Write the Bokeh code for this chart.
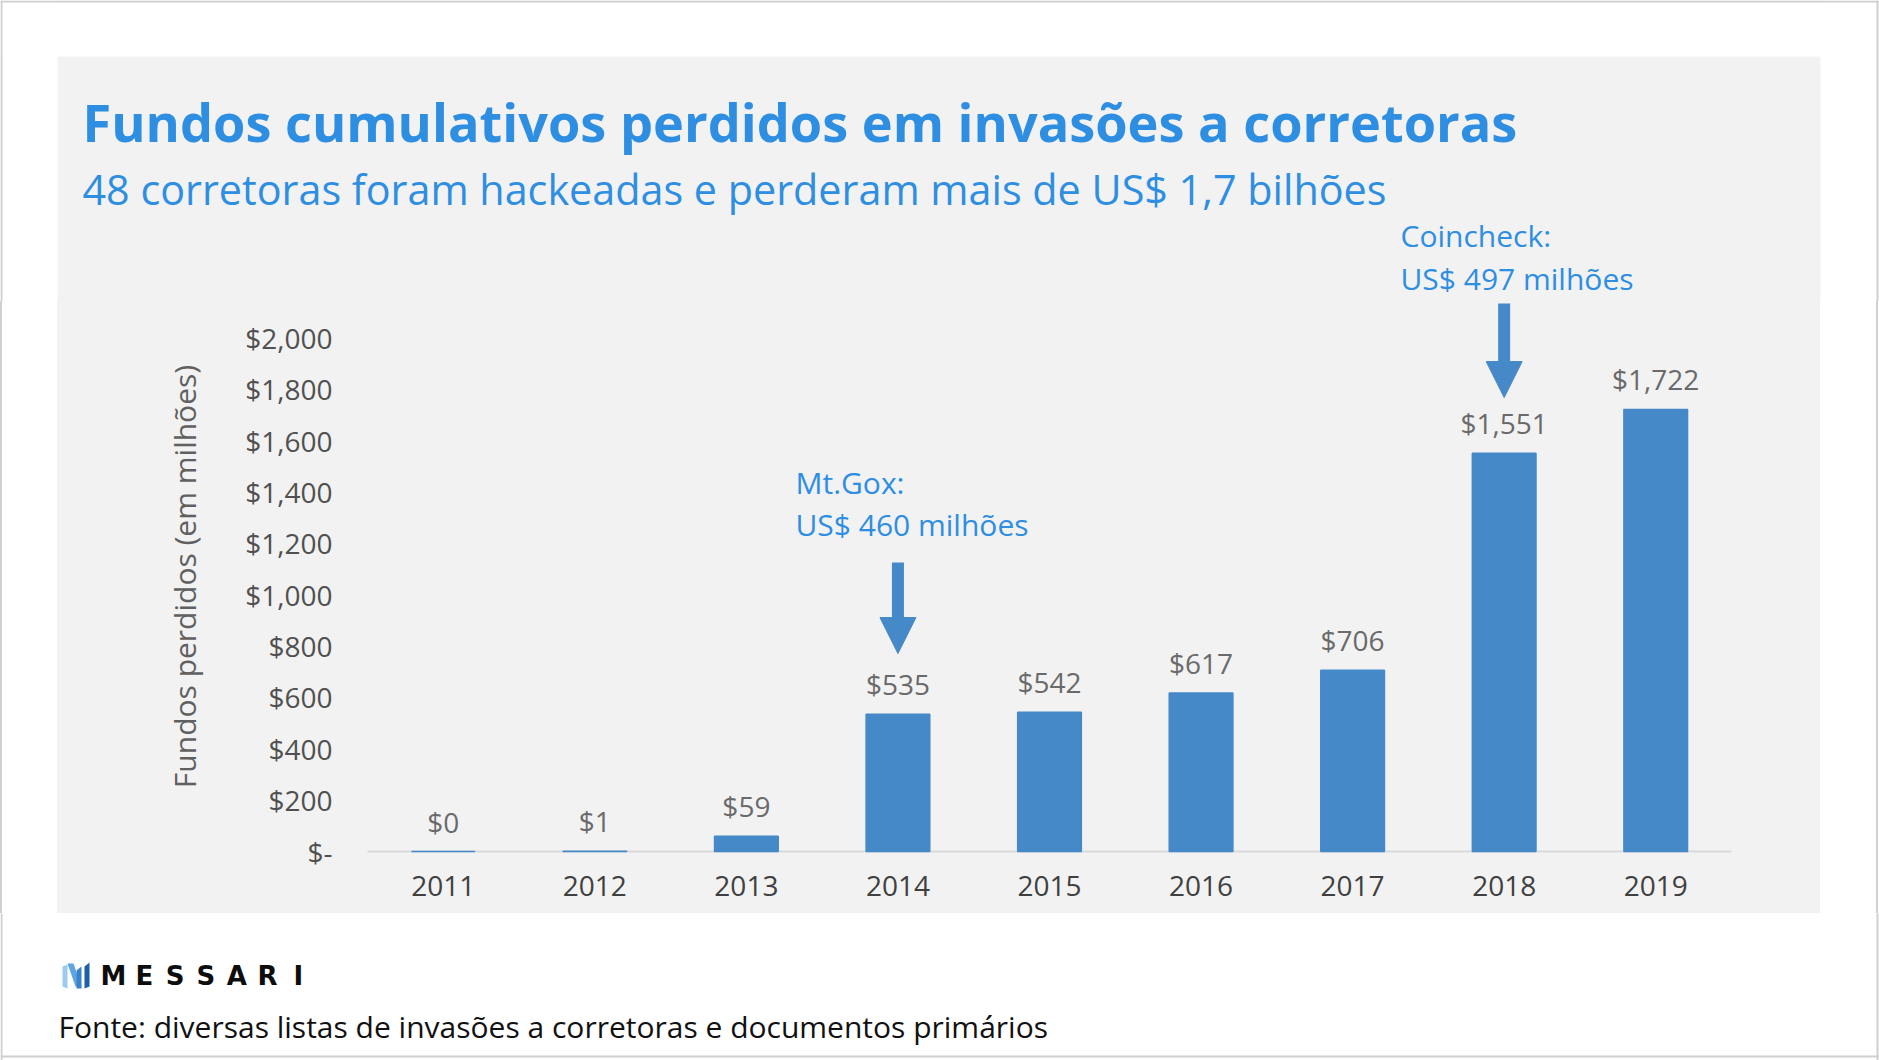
from bokeh.plotting import figure
from bokeh.layouts import column, row
from bokeh.models import (Range1d, FactorRange, FixedTicker, Label, BoxAnnotation,
                          Arrow, NormalHead, ColumnDataSource, Spacer)
from bokeh.core.properties import value
from bokeh.embed import file_html
from bokeh.resources import INLINE

# ---------------- data ----------------
years = ["2011", "2012", "2013", "2014", "2015", "2016", "2017", "2018", "2019"]
funds_lost = [0, 1, 59, 535, 542, 617, 706, 1551, 1722]
bar_labels = ["$0", "$1", "$59", "$535", "$542", "$617", "$706", "$1,551", "$1,722"]
y_ticks = [0, 200, 400, 600, 800, 1000, 1200, 1400, 1600, 1800, 2000]
y_tick_labels = ["$-", "$200", "$400", "$600", "$800", "$1,000", "$1,200",
                 "$1,400", "$1,600", "$1,800", "$2,000"]
title_text = "Fundos cumulativos perdidos em invasões a corretoras"
subtitle_text = "48 corretoras foram hackeadas e perderam mais de US$ 1,7 bilhões"
y_axis_title = "Fundos perdidos (em milhões)"
source_text = "Fonte: diversas listas de invasões a corretoras e documentos primários"
logo_text = "MESSARI"
note_years = ["2014", "2018"]
note_line1 = ["Mt.Gox:", "Coincheck:"]
note_line2 = ["US$ 460 milhões", "US$ 497 milhões"]

# ---------------- layout / style ----------------
W, H = 1879, 1060
PANEL_L, PANEL_R, PANEL_T, PANEL_B = 57, 1820, 56, 913
HEAD_H = 301                      # header band (title, subtitle, top note)
FL, FR, FB = 367, 1731, 851       # chart frame in page pixels
PX_PER_UNIT = 513.5 / 2000.0
Y_END = (FB - HEAD_H) / PX_PER_UNIT

FONT = "Open Sans"
BLUE_TXT = "#2d8ee2"
BAR = "#4589c8"
GREY_TXT = "#6a6a6a"
PANEL = "#f2f2f2"
EDGE = "#d0d0d0"


def blank(w, h, x0, x1, y0, y1, bg="white"):
    f = figure(width=w, height=h, x_range=Range1d(x0, x1), y_range=Range1d(y1, y0),
               output_backend="svg", toolbar_location=None,
               x_axis_location=None, y_axis_location=None, min_border=0)
    f.background_fill_color = bg
    f.border_fill_color = bg
    f.outline_line_color = None
    f.grid.visible = False
    return f


def white_box(f, l, r, t, b):
    f.add_layout(BoxAnnotation(left=l, right=r, top=t, bottom=b, fill_color="white",
                               fill_alpha=1, line_color=None, level="underlay"))


# ---- header (page coords: x 0..W, y 0..HEAD_H+1; last row hidden under chart) ----
head = blank(W, HEAD_H + 1, 0, W, 0, HEAD_H + 1, bg=PANEL)
white_box(head, -5, W + 5, -5, PANEL_T)
white_box(head, -5, PANEL_L, -5, HEAD_H + 5)
white_box(head, PANEL_R, W + 5, -5, HEAD_H + 5)
head.segment(x0=[0, 1, W - 2], y0=[1, 0, 0], x1=[W, 1, W - 2], y1=[1, HEAD_H + 3, HEAD_H + 3],
             line_color=EDGE, line_width=2)
head.add_layout(Label(x=82, y=121, text=title_text, text_font=FONT, text_font_size="52.3px",
                      text_font_style="bold", text_color=BLUE_TXT,
                      text_baseline="middle", text_align="left"))
head.add_layout(Label(x=82, y=188, text=subtitle_text, text_font=FONT, text_font_size="41.3px",
                      text_color=BLUE_TXT, text_baseline="middle", text_align="left"))

# ---- chart ----
CW = PANEL_R - PANEL_L
CH = PANEL_B - HEAD_H
p = figure(width=CW, height=CH,
           x_range=FactorRange(*years, range_padding=0),
           y_range=Range1d(0, Y_END),
           output_backend="svg", toolbar_location=None,
           min_border_left=FL - PANEL_L, min_border_right=PANEL_R - FR,
           min_border_top=0, min_border_bottom=PANEL_B - FB,
           styles={"background-color": PANEL})
p.background_fill_color = PANEL
p.border_fill_color = PANEL
p.outline_line_color = None
p.xgrid.visible = False
p.ygrid.visible = False

ya = p.yaxis[0]
ya.ticker = FixedTicker(ticks=y_ticks)
ya.major_label_overrides = {t: l for t, l in zip(y_ticks, y_tick_labels)}
ya.axis_line_color = None
ya.major_tick_line_color = None
ya.minor_tick_line_color = None
ya.major_label_standoff = 29
ya.major_label_text_font = FONT
ya.major_label_text_font_size = "28px"
ya.major_label_text_color = "#505050"
ya.axis_label = y_axis_title
ya.axis_label_text_font = FONT
ya.axis_label_text_font_size = "30px"
ya.axis_label_text_font_style = "normal"
ya.axis_label_text_color = "#606060"
ya.axis_label_standoff = 37

xa = p.xaxis[0]
xa.axis_line_color = "#d9d9d9"
xa.axis_line_width = 2
xa.major_tick_line_color = None
xa.minor_tick_line_color = None
xa.major_label_standoff = 18
xa.major_label_text_font = FONT
xa.major_label_text_font_size = "28px"
xa.major_label_text_color = "#404040"

src = ColumnDataSource(dict(year=years, funds=funds_lost, label=bar_labels))
p.vbar(x="year", top="funds", width=0.42, source=src,
       fill_color=BAR, line_color=BAR, line_width=1.5, level="overlay")
p.text(x="year", y="funds", text="label", source=src,
       text_align="center", text_baseline="bottom", y_offset=-11,
       text_font=value(FONT), text_font_size="28px", text_color=GREY_TXT)


def sx(X):
    return X - FL


def sy(Y):
    return FB - Y


arrow_spans = [(1126, 771), (2134, 1768)]
for i, yr in enumerate(note_years):
    xc = years.index(yr) + 0.5
    ys, ye = arrow_spans[i]
    p.add_layout(Arrow(x_start=xc, y_start=ys, x_end=xc, y_end=ye,
                       line_color=BAR, line_width=12,
                       end=NormalHead(size=36, fill_color=BAR, line_color=BAR, line_width=1)))

# Mt.Gox note lives inside the chart frame
for txt, yy in zip((note_line1[0], note_line2[0]), (482, 524)):
    p.add_layout(Label(x=sx(795), y=sy(yy), x_units="screen", y_units="screen",
                       text=txt, text_font=FONT, text_font_size="30px",
                       text_color=BLUE_TXT, text_baseline="middle", text_align="left"))
# Coincheck note sits in the header band
for txt, yy in zip((note_line1[1], note_line2[1]), (235, 278)):
    head.add_layout(Label(x=1400, y=yy, text=txt, text_font=FONT, text_font_size="30px",
                          text_color=BLUE_TXT, text_baseline="middle", text_align="left"))

# ---- side strips (white margins with the page edge line) ----
left = Spacer(width=PANEL_L, height=CH,
              styles={"background": f"linear-gradient(to right, {EDGE} 2px, white 2px)"})
right = Spacer(width=W - PANEL_R, height=CH,
               styles={"background": f"linear-gradient(to left, white 1px, {EDGE} 1px, "
                                     f"{EDGE} 3px, white 3px)"})

# ---- footer ----
foot = blank(W, H - PANEL_B, 0, W, PANEL_B, H)
foot.segment(x0=[1, W - 2, 0], y0=[PANEL_B - 2, PANEL_B - 2, H - 4], x1=[1, W - 2, W], y1=[H, H, H - 4],
             line_color=EDGE, line_width=2)
logo_shapes = [
    ([62, 67, 67, 62], [966, 964, 988, 986], "#9ccbef"),
    ([67, 73, 81, 75], [963, 963, 986, 986], "#5ea5e4"),
    ([76, 81, 81, 76], [970, 966, 988, 988], "#3a82cb"),
    ([84, 89, 89, 84], [966, 962, 986, 988], "#1f5ea8"),
]
for xs_, ys_, col in logo_shapes:
    foot.patch(x=xs_, y=ys_, fill_color=col, line_color=None)
for i, ch in enumerate(logo_text):
    foot.add_layout(Label(x=113 + i * 30.8, y=975, text=ch, text_font="DejaVu Sans",
                          text_font_size="26px", text_font_style="bold", text_color="#0d0d0d",
                          text_baseline="middle", text_align="center"))
foot.add_layout(Label(x=58, y=1026, text=source_text, text_font=FONT, text_font_size="30px",
                      text_color="#111111", text_baseline="middle", text_align="left"))

middle = row(left, p, right, margin=(-1, 0, 0, 0))
page = column(head, middle, foot)
open("out.html", "w").write(file_html(page, INLINE))
